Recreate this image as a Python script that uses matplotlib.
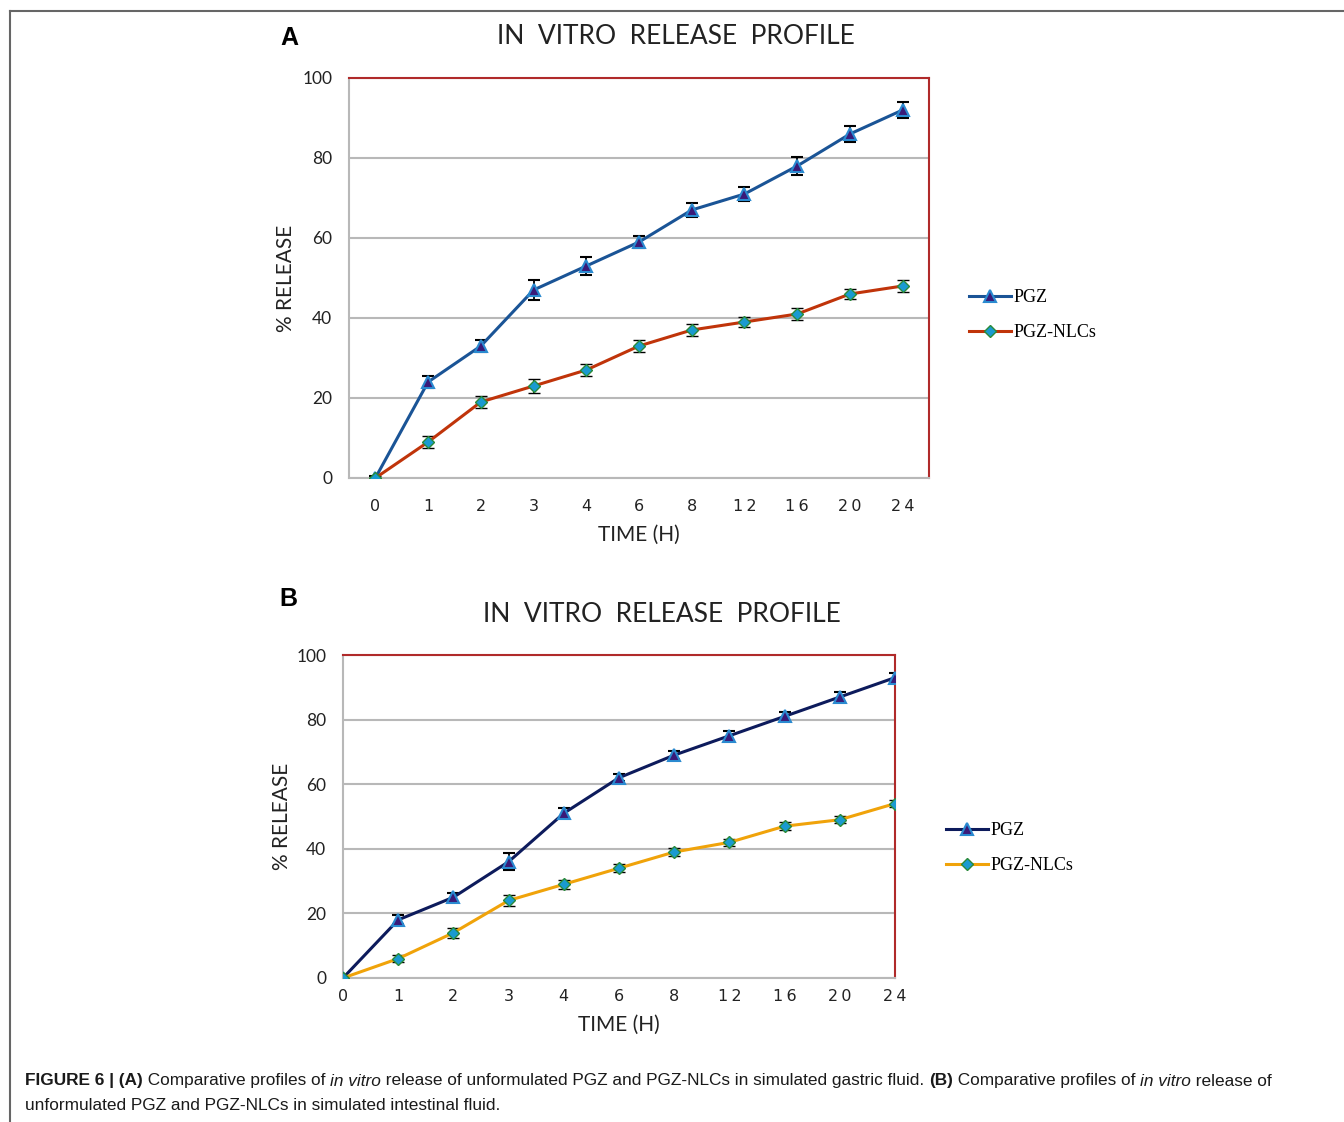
import numpy as np
import matplotlib
matplotlib.use("Agg")
import matplotlib.pyplot as plt
from matplotlib.lines import Line2D

# Daten
zeit = ["0", "1", "2", "3", "4", "6", "8", "12", "16", "20", "24"]

a_pgz = [0, 24, 33, 47, 53, 59, 67, 71, 78, 86, 92]
a_pgz_err = [0.6, 1.6, 1.5, 2.4, 2.2, 1.5, 1.8, 1.8, 2.2, 2.0, 2.0]
a_nlc = [0, 9, 19, 23, 27, 33, 37, 39, 41, 46, 48]
a_nlc_err = [0.6, 1.5, 1.6, 1.7, 1.6, 1.4, 1.4, 1.3, 1.4, 1.3, 1.4]

b_pgz = [0, 18, 25, 36, 51, 62, 69, 75, 81, 87, 93]
b_pgz_err = [0.6, 1.4, 1.4, 2.6, 1.6, 1.1, 1.3, 1.5, 1.5, 1.5, 1.5]
b_nlc = [0, 6, 14, 24, 29, 34, 39, 42, 47, 49, 54]
b_nlc_err = [0.6, 1.1, 1.6, 1.6, 1.4, 1.2, 1.1, 1.1, 1.2, 1.1, 1.2]

titel = "IN VITRO RELEASE PROFILE"
legende = ["PGZ", "PGZ-NLCs"]

ROT = "#b02a2a"
GRAU = "#b8b8b8"

fig = plt.figure(figsize=(13.44, 11.22), dpi=100)

# Rahmenlinien oben und links
fig.add_artist(Line2D([9.5 / 1344, 1], [1 - 10.5 / 1122] * 2, color="#666666", lw=1.5))
fig.add_artist(Line2D([9.5 / 1344] * 2, [0, 1 - 10.5 / 1122], color="#666666", lw=1.5))


def gesperrt(s):
    # Excel-artige Sperrung der Ziffern
    return "\u2009".join(s)


def panel(rect, pgz, pgz_err, nlc, nlc_err, c_pgz, c_nlc, xlim, xpad, leg_pos,
          buchstabe, bpos, tpos, ylab_x, xlab_y):
    ax = fig.add_axes(rect)
    x = np.arange(len(zeit))
    ax.errorbar(x, pgz, yerr=pgz_err, color=c_pgz, lw=2.2, marker="^", ms=8,
                mfc="#3a1a78", mec="#2a8ad0", mew=1.5, ecolor="black",
                elinewidth=1.3, capsize=4, capthick=1.8, zorder=3)
    ax.errorbar(x, nlc, yerr=nlc_err, color=c_nlc, lw=2.2, marker="D", ms=6.5,
                mfc="#1a9ad0", mec="#2a8a3a", mew=1.0, ecolor="black",
                elinewidth=1.3, capsize=4, capthick=1.8, zorder=3)
    ax.set_xlim(*xlim)
    ax.set_ylim(0, 100)
    ax.set_yticks(range(0, 101, 20))
    ax.set_xticks(x)
    ax.set_xticklabels([gesperrt(t) for t in zeit], family="DejaVu Sans",
                       fontsize=11.5, color="#222222")
    ax.tick_params(axis="x", length=0, pad=xpad)
    ax.tick_params(axis="y", length=0, pad=12, labelsize=12.5, labelcolor="#222222")
    for lab in ax.get_yticklabels():
        lab.set_family("Lato")
    ax.grid(axis="y", color=GRAU, lw=1.5)
    ax.set_axisbelow(True)
    for s in ("left", "bottom"):
        ax.spines[s].set_color(GRAU)
        ax.spines[s].set_linewidth(1.5)
    for s in ("top", "right"):
        ax.spines[s].set_color(ROT)
        ax.spines[s].set_linewidth(1.5)

    ax.set_ylabel("% RELEASE", family="Lato", fontsize=15, color="#222222")
    ax.yaxis.set_label_coords((ylab_x - rect[0] * 1344) / (rect[2] * 1344), 0.5)
    ax.set_xlabel("TIME (H)", family="Lato", fontsize=15, color="#222222")
    ax.xaxis.set_label_coords(0.5, -(xlab_y - (1 - rect[1]) * 1122) / (rect[3] * 1122))
    ax.xaxis.label.set_va("center")
    ax.yaxis.label.set_va("center")

    fig.text(tpos[0] / 1344, 1 - tpos[1] / 1122, "  ".join(titel.split(" ")),
             family="Lato", fontsize=19, color="#222222",
             ha="center", va="center")
    fig.text(bpos[0] / 1344, 1 - bpos[1] / 1122, buchstabe, family="Liberation Sans",
             weight="bold", fontsize=18, ha="center", va="center")

    handles = [Line2D([], [], color=c_pgz, lw=2.2, marker="^", ms=8, mfc="#3a1a78",
                      mec="#2a8ad0", mew=1.5),
               Line2D([], [], color=c_nlc, lw=2.2, marker="D", ms=6.5, mfc="#1a9ad0",
                      mec="#2a8a3a", mew=1.0)]
    fig.legend(handles, legende, loc="center left",
               bbox_to_anchor=(leg_pos[0] / 1344, 1 - leg_pos[1] / 1122),
               frameon=False, prop={"family": "Liberation Serif", "size": 13},
               handlelength=2.3, handletextpad=0.15, labelspacing=1.0, borderpad=0)
    return ax


panel([349 / 1344, 1 - 478 / 1122, 580 / 1344, 400 / 1122],
      a_pgz, a_pgz_err, a_nlc, a_nlc_err, "#1a5496", "#c0340a",
      (-0.5, 10.5), 15, (960, 315), "A", (289, 38), (676, 37), 286, 535)

panel([343 / 1344, 1 - 978 / 1122, 552 / 1344, 323 / 1122],
      b_pgz, b_pgz_err, b_nlc, b_nlc_err, "#0d1b5c", "#f0a30a",
      (0, 10), 8, (937, 848), "B", (288, 599), (662, 615), 282, 1025)

# Bildunterschrift mit gemischten Schriftschnitten
teile = [("FIGURE 6 | (A)", "bold", "normal"),
         (" Comparative profiles of ", "normal", "normal"),
         ("in vitro", "normal", "italic"),
         (" release of unformulated PGZ and PGZ-NLCs in simulated gastric fluid. ", "normal", "normal"),
         ("(B)", "bold", "normal"),
         (" Comparative profiles of ", "normal", "normal"),
         ("in vitro", "normal", "italic"),
         (" release of", "normal", "normal")]
fig.canvas.draw()
r = fig.canvas.get_renderer()
xpos = 25
for txt, w, st in teile:
    t = fig.text(xpos / 1344, 1 - 1081 / 1122, txt, family="Liberation Sans",
                 weight=w, style=st, fontsize=12.45, va="center", color="#1a1a1a")
    xpos += t.get_window_extent(r).width
fig.text(25 / 1344, 1 - 1106 / 1122,
         "unformulated PGZ and PGZ-NLCs in simulated intestinal fluid.",
         family="Liberation Sans", fontsize=12.45, va="center", color="#1a1a1a")

fig.savefig("out.png", dpi=100)
